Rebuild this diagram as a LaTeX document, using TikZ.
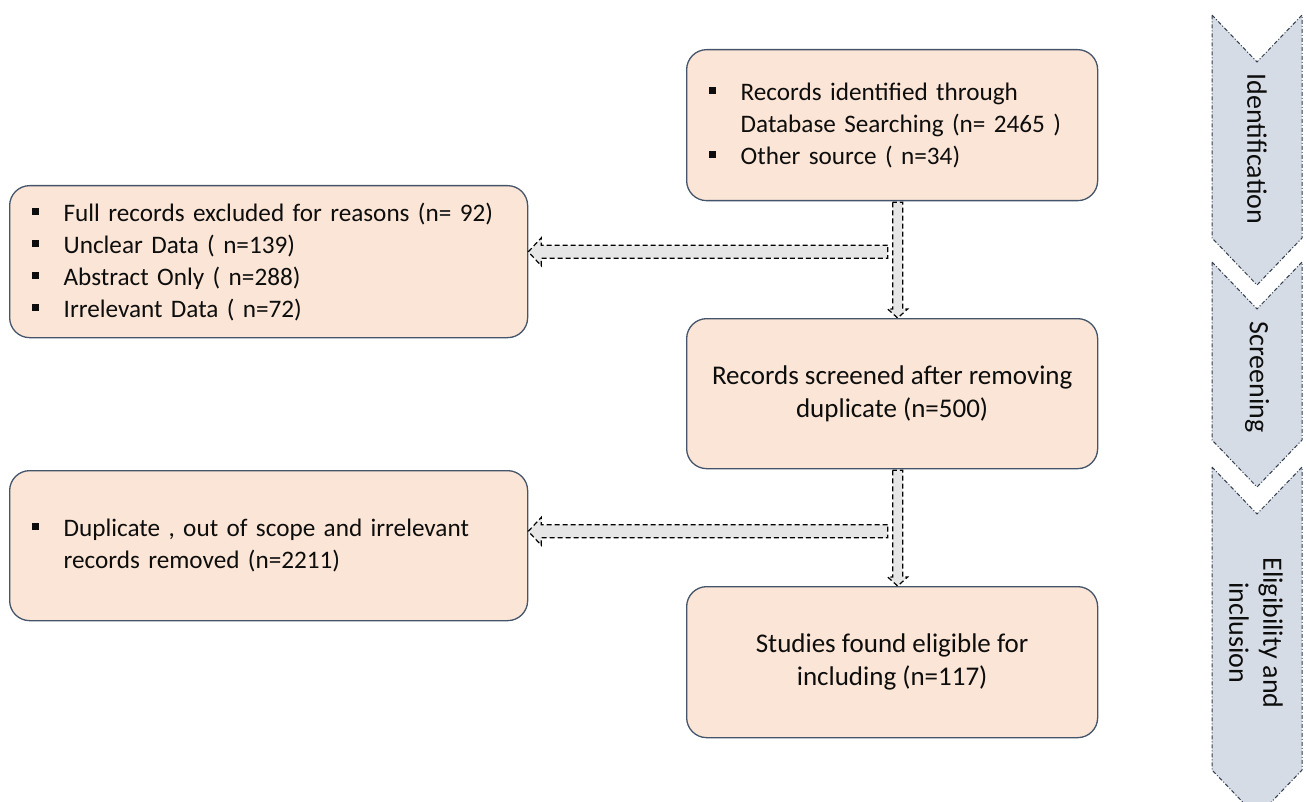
\documentclass[tikz,border=0pt]{standalone}
\usepackage{fontspec}
\setmainfont{Carlito}
\usetikzlibrary{calc}
\definecolor{boxfill}{HTML}{FBE5D6}
\definecolor{boxline}{HTML}{44546A}
\definecolor{arrfill}{HTML}{E7E6E6}
\definecolor{chevfill}{HTML}{D6DCE5}
\definecolor{chevline}{HTML}{333F50}
\definecolor{txt}{HTML}{0D0D0D}
\newcommand{\bsq}{\makebox[32pt][l]{\hspace*{0.5pt}\raisebox{6.5pt}{\rule{7pt}{7pt}}}}
\tikzset{
  box/.style={draw=boxline, line width=1.3pt, fill=boxfill, rounded corners=20pt,
    inner xsep=22pt, inner ysep=0pt, text=txt, anchor=north west},
  bulbox/.style={box, align=left, font=\fontsize{25.2}{32}\selectfont},
  cenbox/.style={box, align=center, inner xsep=0pt, font=\fontsize{27}{32.5}\selectfont},
  fatarrow/.style={draw=black, fill=arrfill, line width=1.2pt, dash pattern=on 5pt off 3pt},
  chev/.style={draw=chevline, fill=chevfill, line width=1pt, dash pattern=on 4pt off 2pt on 1pt off 2pt},
  chevtext/.style={rotate=-90, align=center, text=txt, font=\fontsize{28}{34}\selectfont}
}
\begin{document}
\begin{tikzpicture}[x=1pt,y=-1pt]
\useasboundingbox (0,0) rectangle (1306,802);
% chevrons
\draw[chev] (1212,15) -- (1257,62) -- (1302,15) -- (1302,238) -- (1257,285) -- (1212,238) -- cycle;
\draw[chev] (1212,262) -- (1257,309) -- (1302,262) -- (1302,440) -- (1257,487) -- (1212,440) -- cycle;
\draw[chev] (1212,467) -- (1257,514) -- (1302,467) -- (1302,770) -- (1257,817) -- (1212,770) -- cycle;
\node[chevtext] (lid) at (1257,149) {Identification};
\node[chevtext] (lsc) at (1257,377) {Screening};
\node[chevtext] (lel) at (1256,633) {Eligibility and\\inclusion};
% box nodes
\path
  (686,49) node[bulbox, text width=367pt, minimum height=151pt] (top)
    {\bsq Records identified through\\\hspace*{32pt}Database Searching (n= 2465 )\\\bsq Other source ( n=34)}
  (9,185) node[bulbox, text width=474pt, minimum height=152pt] (excl)
    {\bsq Full records excluded for reasons (n= 92)\\\bsq Unclear Data ( n=139)\\\bsq Abstract Only ( n=288)\\\bsq Irrelevant Data ( n=72)}
  (686,318) node[cenbox, minimum width=411pt, minimum height=150pt] (scr)
    {Records screened after removing\\duplicate (n=500)}
  (9,470) node[bulbox, text width=474pt, minimum height=150pt] (rem)
    {\bsq Duplicate , out of scope and irrelevant\\\hspace*{32pt}records removed (n=2211)}
  (686,586) node[cenbox, minimum width=411pt, minimum height=151pt] (inc)
    {Studies found eligible for\\including (n=117)};
% arrows
\coordinate (v1s) at ($(top.south)+(5.5,0)$);
\coordinate (v1e) at (v1s |- scr.north);
\coordinate (v2s) at ($(scr.south)+(5.5,0)$);
\coordinate (v2e) at (v2s |- inc.north);
\coordinate (h1s) at ($(v1s)+(-10,50.5)$);
\coordinate (h1e) at (excl.east |- h1s);
\coordinate (h2s) at ($(v2s)+(-10,62)$);
\coordinate (h2e) at (rem.east |- h2s);
\draw[fatarrow] ($(v1s)+(-5,1)$) -- ($(v1e)+(-5,-9)$) -- ($(v1e)+(-10,-9)$) -- (v1e)
  -- ($(v1e)+(10,-9)$) -- ($(v1e)+(5,-9)$) -- ($(v1s)+(5,1)$) -- cycle;
\draw[fatarrow] ($(v2s)+(-5,1)$) -- ($(v2e)+(-5,-9)$) -- ($(v2e)+(-10,-9)$) -- (v2e)
  -- ($(v2e)+(10,-9)$) -- ($(v2e)+(5,-9)$) -- ($(v2s)+(5,1)$) -- cycle;
\draw[fatarrow] ($(h1s)+(0,-6.5)$) -- ($(h1e)+(13,-6.5)$) -- ($(h1e)+(13,-14)$) -- (h1e)
  -- ($(h1e)+(13,14)$) -- ($(h1e)+(13,6.5)$) -- ($(h1s)+(0,6.5)$) -- cycle;
\draw[fatarrow] ($(h2s)+(0,-6.5)$) -- ($(h2e)+(13,-6.5)$) -- ($(h2e)+(13,-14)$) -- (h2e)
  -- ($(h2e)+(13,14)$) -- ($(h2e)+(13,6.5)$) -- ($(h2s)+(0,6.5)$) -- cycle;
\end{tikzpicture}
\end{document}
